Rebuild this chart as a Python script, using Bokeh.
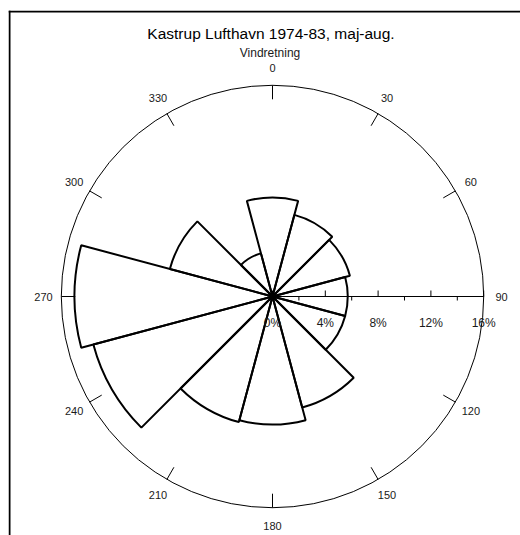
import numpy as np
from bokeh.plotting import figure
from bokeh.models import Range1d, Span, ColumnDataSource
from bokeh.core.properties import value
from bokeh.embed import file_html
from bokeh.resources import INLINE

# ---- data ----
title_text = "Kastrup Lufthavn 1974-83, maj-aug."
subtitle_text = "Vindretning"
directions = [0, 30, 60, 90, 120, 150, 180, 210, 240, 270, 300, 330]
frequency = [7.5, 6.4, 6.07, 5.7, 5.7, 8.7, 9.7, 9.85, 14.05, 15.0, 8.05, 3.38]
dir_labels = ["0", "30", "60", "90", "120", "150", "180", "210", "240", "270", "300", "330"]
pct_ticks = [0, 2, 4, 6, 8, 10, 12, 14, 16]
pct_label_vals = [0, 4, 8, 12, 16]
pct_labels = ["0%", "4%", "8%", "12%", "16%"]
r_max = 16
sector_width = 30

FONT = value("Liberation Sans")
S = 13.2  # px per percent unit

p = figure(width=520, height=535, output_backend="svg", toolbar_location=None,
           x_axis_location=None, y_axis_location=None,
           min_border_left=8, min_border_top=10, min_border_right=0, min_border_bottom=0)
x0 = -264 / S
y1 = 286 / S
p.x_range = Range1d(x0, x0 + 512 / S)
p.y_range = Range1d(y1 - 525 / S, y1)
p.grid.visible = False
p.outline_line_color = None
p.background_fill_color = "white"
p.border_fill_color = "white"

# frame lines (top and left)
p.add_layout(Span(location=x0 + 1 / S, dimension="height", line_color="black", line_width=2))
p.add_layout(Span(location=y1 - 1 / S, dimension="width", line_color="black", line_width=2))

# outer circle
p.arc(x=0, y=0, radius=r_max, start_angle=0, end_angle=2 * np.pi, line_color="black", line_width=1)

# direction ticks & labels
ang = np.radians(90 - np.array(directions, dtype=float))
tick_len = 14 / S
p.segment(x0=r_max * np.cos(ang), y0=r_max * np.sin(ang),
          x1=(r_max - tick_len) * np.cos(ang), y1=(r_max - tick_len) * np.sin(ang),
          line_color="black", line_width=1)
lab_r = 229 / S
p.text(x=lab_r * np.cos(ang), y=lab_r * np.sin(ang), text=dir_labels,
       text_align="center", text_baseline="middle", text_font=FONT,
       text_font_size="11px", text_color="#1a1a1a")

# sectors
half = np.radians(sector_width / 2)
src = ColumnDataSource(dict(r=frequency, start=ang - half, end=ang + half))
p.wedge(x=0, y=0, radius="r", start_angle="start", end_angle="end", source=src,
        fill_color=None, line_color="black", line_width=2, direction="anticlock")

# radial axis along 90 degrees
p.segment(x0=[0], y0=[0], x1=[r_max], y1=[0], line_color="black", line_width=1)
major = [t for t in pct_ticks if t in pct_label_vals]
minor = [t for t in pct_ticks if t not in pct_label_vals]
p.segment(x0=major, y0=[0] * len(major), x1=major, y1=[6 / S] * len(major), line_color="black", line_width=1)
p.segment(x0=minor, y0=[0] * len(minor), x1=minor, y1=[-4 / S] * len(minor), line_color="black", line_width=1)
p.text(x=pct_label_vals, y=[-26 / S] * len(pct_label_vals), text=pct_labels,
       text_align="center", text_baseline="middle", text_font=FONT,
       text_font_size="12px", text_color="#1a1a1a")

# titles
p.text(x=[-1.5 / S], y=[263 / S], text=[title_text], text_align="center", text_baseline="middle",
       text_font=FONT, text_font_size="15.5px", text_color="black")
p.text(x=[-2.5 / S], y=[244 / S], text=[subtitle_text], text_align="center", text_baseline="middle",
       text_font=FONT, text_font_size="12px", text_color="#1a1a1a")

open("out.html", "w").write(file_html(p, INLINE))
